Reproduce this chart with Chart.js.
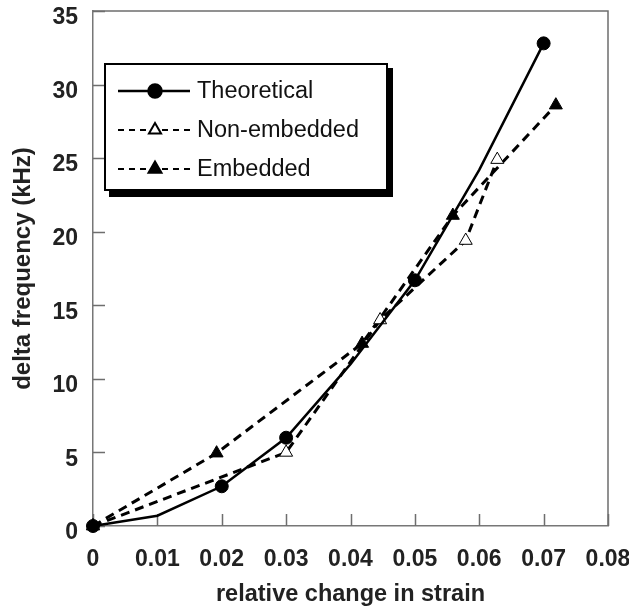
<!DOCTYPE html>
<html>
<head>
<meta charset="utf-8">
<script src="https://cdn.jsdelivr.net/npm/chart.js@4.4.1/dist/chart.umd.min.js"></script>
<style>
  html, body { margin: 0; padding: 0; background: #fff; }
  #wrap { width: 629px; height: 608px; }
</style>
</head>
<body>
<div id="wrap"><canvas id="grafico" width="629" height="608"></canvas></div>
<script>
// Theoretical curve (markers only on some points)
const theoX = [0, 0.01, 0.02, 0.03, 0.04, 0.05, 0.06, 0.07]
const theoY = [0, 0.7, 2.7, 6.0, 11.0, 16.7, 24.2, 32.8]
const theoMarked = [true, false, true, true, false, true, false, true]

// Non-embedded (open triangles)
const nonEmbX = [0, 0.030, 0.0446, 0.0579, 0.0628]
const nonEmbY = [0, 5.0, 14.0, 19.4, 24.9]

// Embedded (filled triangles)
const embX = [0, 0.0192, 0.0418, 0.0559, 0.0719]
const embY = [0, 4.95, 12.4, 21.1, 28.6]

const seriesNames = ['Theoretical', 'Non-embedded', 'Embedded']
const xTickValues = [0, 0.01, 0.02, 0.03, 0.04, 0.05, 0.06, 0.07, 0.08]
const xTickLabels = ['0', '0.01', '0.02', '0.03', '0.04', '0.05', '0.06', '0.07', '0.08']
const yTickValues = [0, 5, 10, 15, 20, 25, 30, 35]
const yTickLabels = ['0', '5', '10', '15', '20', '25', '30', '35']

const toPoints = (xs, ys) => xs.map((v, i) => ({ x: v, y: ys[i] }))
const FONT = 'Liberation Sans, Arial, Helvetica, sans-serif'

// frame on top/right and inward tick marks
const frameAndTicks = {
  id: 'frameAndTicks',
  beforeDatasetsDraw(chart) {
    const { ctx, chartArea: a, scales } = chart
    ctx.save()
    ctx.strokeStyle = '#6e6e6e'
    ctx.lineWidth = 1.5
    ctx.beginPath()
    ctx.moveTo(a.left, a.top)
    ctx.lineTo(a.right, a.top)
    ctx.lineTo(a.right, a.bottom)
    ctx.stroke()
    ctx.beginPath()
    scales.y.ticks.forEach(t => {
      const py = Math.round(scales.y.getPixelForValue(t.value)) + 0.5
      ctx.moveTo(a.left, py)
      ctx.lineTo(a.left + 12, py)
    })
    scales.x.ticks.forEach(t => {
      const px = Math.round(scales.x.getPixelForValue(t.value)) + 0.5
      ctx.moveTo(px, a.bottom)
      ctx.lineTo(px, a.bottom - 12)
    })
    ctx.stroke()
    ctx.restore()
  }
}

// boxed legend with drop shadow, like the original
const boxLegend = {
  id: 'boxLegend',
  afterDraw(chart) {
    const ctx = chart.ctx
    const bx = 104, by = 63, bw = 284, bh = 128
    ctx.save()
    ctx.fillStyle = '#000'
    ctx.fillRect(bx + 5, by + 5, bw, bh + 1)
    ctx.fillStyle = '#fff'
    ctx.fillRect(bx, by, bw, bh)
    ctx.lineWidth = 2
    ctx.strokeStyle = '#000'
    ctx.strokeRect(bx + 1, by + 1, bw - 2, bh - 2)

    chart.data.datasets.forEach((ds, i) => {
      const ly = by + 28 + i * 39
      ctx.strokeStyle = ds.borderColor
      ctx.lineWidth = ds.borderDash ? 2 : ds.borderWidth
      ctx.setLineDash(ds.borderDash ? [6, 5] : [])
      ctx.beginPath()
      ctx.moveTo(118, ly)
      ctx.lineTo(190, ly)
      ctx.stroke()
      ctx.setLineDash([])
      ctx.fillStyle = ds.pointBackgroundColor
      ctx.strokeStyle = ds.pointBorderColor
      Chart.helpers.drawPoint(ctx, {
        pointStyle: ds.pointStyle,
        radius: ds.legendRadius,
        rotation: 0,
        borderWidth: ds.pointBorderWidth
      }, 155, ly)
      ctx.fillStyle = '#111'
      ctx.font = '23.5px ' + FONT
      ctx.textAlign = 'left'
      ctx.textBaseline = 'middle'
      ctx.fillText(ds.label, 197, ly + 1)
    })
    ctx.restore()
  }
}

const ctx = document.getElementById('grafico').getContext('2d')
new Chart(ctx, {
  type: 'line',
  data: {
    datasets: [{
      label: seriesNames[0],
      data: toPoints(theoX, theoY),
      borderColor: '#000',
      borderWidth: 2.5,
      pointStyle: 'circle',
      pointRadius: theoMarked.map(m => m ? 6.5 : 0),
      legendRadius: 6.5,
      pointBackgroundColor: '#000',
      pointBorderColor: '#000',
      pointBorderWidth: 1,
      clip: false
    }, {
      label: seriesNames[1],
      data: toPoints(nonEmbX, nonEmbY),
      borderColor: '#000',
      borderWidth: 3,
      borderDash: [9, 6],
      pointStyle: 'triangle',
      pointRadius: 7.5,
      legendRadius: 7,
      pointBackgroundColor: '#fff',
      pointBorderColor: '#000',
      pointBorderWidth: 1,
      clip: false
    }, {
      label: seriesNames[2],
      data: toPoints(embX, embY),
      borderColor: '#000',
      borderWidth: 3,
      borderDash: [9, 6],
      pointStyle: 'triangle',
      pointRadius: 7.5,
      legendRadius: 7.5,
      pointBackgroundColor: '#000',
      pointBorderColor: '#000',
      pointBorderWidth: 1,
      clip: false
    }]
  },
  options: {
    responsive: false,
    animation: false,
    events: [],
    layout: { padding: { top: 11, right: 21, left: 0, bottom: 0 } },
    plugins: { legend: { display: false }, tooltip: { enabled: false } },
    scales: {
      x: {
        type: 'linear',
        min: 0,
        max: 0.08,
        afterBuildTicks: s => { s.ticks = xTickValues.map(v => ({ value: v })) },
        afterFit: s => { s.height = 82; s.paddingLeft = 0; s.paddingRight = 0 },
        grid: { display: false, drawTicks: false },
        border: { display: true, color: '#777', width: 1.5 },
        ticks: {
          padding: 20,
          maxRotation: 0,
          autoSkip: false,
          color: '#222',
          font: { family: FONT, size: 23, weight: 'bold' },
          callback: (v, i) => xTickLabels[i]
        },
        title: {
          display: true,
          text: 'relative change in strain',
          color: '#222',
          padding: { top: 0, bottom: -1 },
          font: { family: FONT, size: 23.5, weight: 'bold' }
        }
      },
      y: {
        type: 'linear',
        min: 0,
        max: 35,
        afterBuildTicks: s => { s.ticks = yTickValues.map(v => ({ value: v })) },
        afterFit: s => { s.width = 93; s.paddingTop = 0; s.paddingBottom = 0 },
        grid: { display: false, drawTicks: false },
        border: { display: true, color: '#777', width: 1.5 },
        ticks: {
          padding: 15,
          labelOffset: 7,
          autoSkip: false,
          color: '#222',
          font: { family: FONT, size: 23, weight: 'bold' },
          callback: (v, i) => yTickLabels[i]
        },
        title: {
          display: true,
          text: 'delta frequency (kHz)',
          color: '#222',
          padding: { top: 9, bottom: 0 },
          font: { family: FONT, size: 24, weight: 'bold' }
        }
      }
    }
  },
  plugins: [frameAndTicks, boxLegend]
})
</script>
</body>
</html>
